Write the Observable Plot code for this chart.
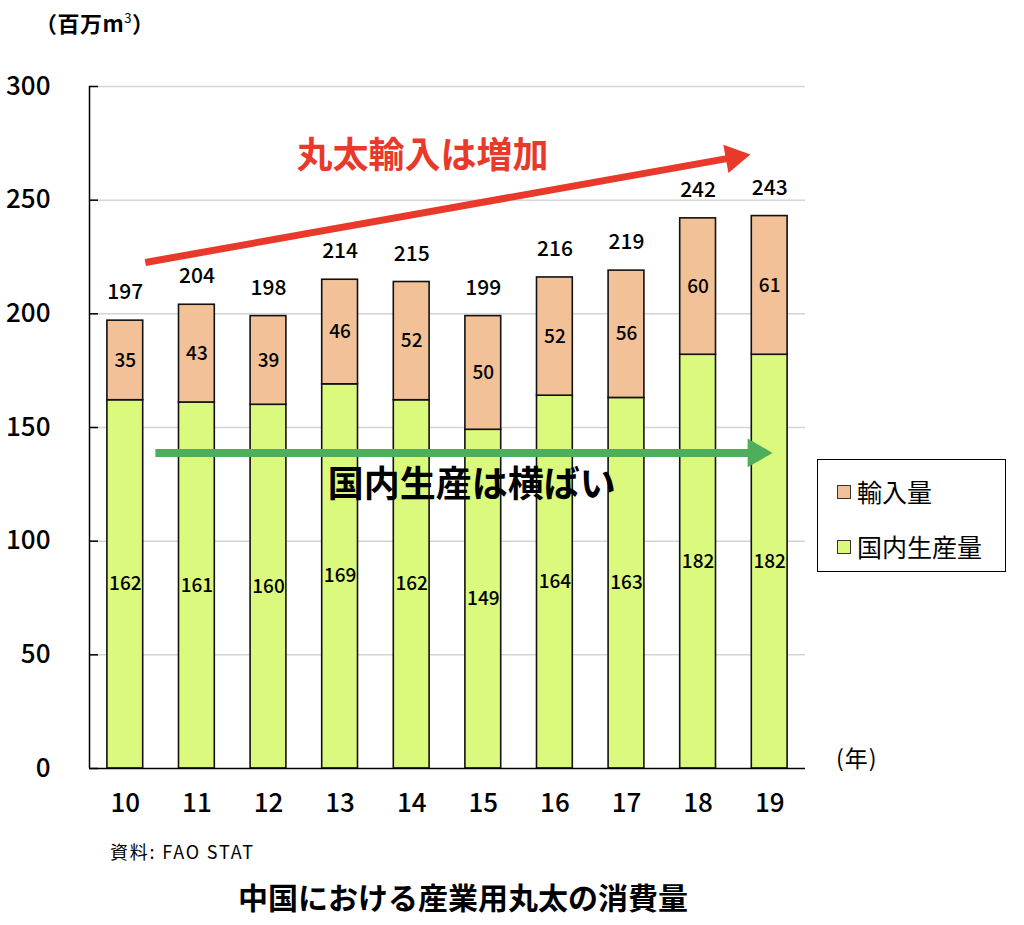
<!DOCTYPE html>
<html>
<head>
<meta charset="utf-8">
<script src="https://cdn.jsdelivr.net/npm/d3@7"></script>
<script src="https://cdn.jsdelivr.net/npm/@observablehq/plot@0.6"></script>
<style>
  html, body { margin: 0; padding: 0; background: #fff; }
  body { font-family: "Noto Sans CJK JP", "Noto Sans", sans-serif; color: #000; }
  #wrap { position: relative; width: 1024px; height: 925px; overflow: hidden; }
  #chart { position: absolute; left: 0; top: 0; }
  .abs { position: absolute; white-space: nowrap; line-height: 1; }
  #unit { left: 35px; top: 11px; font-size: 22px; font-weight: bold; letter-spacing: 0.5px; }
  #unit sup { font-size: 13px; vertical-align: 9px; font-weight: normal; }
  #yearlbl { left: 836px; top: 746px; font-size: 23px; letter-spacing: 1px; }
  #legend { left: 817px; top: 459px; width: 187px; height: 111px; border: 1.5px solid #000; box-sizing: content-box; }
  .li { position: absolute; left: 19px; font-size: 25px; display: flex; align-items: center; }
  .sw { width: 12px; height: 12px; border: 1px solid #333; margin-right: 6px; }
  #caption { left: 110px; top: 842px; font-size: 18px; letter-spacing: 1.8px; }
  #title { left: 0; width: 926px; text-align: center; top: 881px; font-size: 30px; font-weight: bold; }
</style>
</head>
<body>
<div id="wrap">
  <div id="chart"></div>
  <div id="unit" class="abs">（百万m<sup>3</sup>）</div>
  <div id="yearlbl" class="abs">(年)</div>
  <div id="legend" class="abs"></div>
  <div id="caption" class="abs">資料:&nbsp;FAO STAT</div>
  <div id="title" class="abs">中国における産業用丸太の消費量</div>
</div>
<script>
// ---- data ----
const years = [10, 11, 12, 13, 14, 15, 16, 17, 18, 19];
const domestic = [162, 161, 160, 169, 162, 149, 164, 163, 182, 182];
const imports = [35, 43, 39, 46, 52, 50, 52, 56, 60, 61];
const totals = [197, 204, 198, 214, 215, 199, 216, 219, 242, 243];
const seriesNames = ["輸入量", "国内生産量"];
const seriesColors = ["#F2C197", "#DBFA7D"];
const yTicks = [0, 50, 100, 150, 200, 250, 300];

// annotations (data coordinates)
const redArrow = [{x1: 10.28, y1: 222.6, x2: 18.73, y2: 270.1}];
const greenArrow = [{x1: 10.42, y1: 138.8, x2: 19.04, y2: 138.8}];
const notes = [
  {x: 14.15, y: 269.2, text: "丸太輸入は増加", color: "#E8392A"},
  {x: 14.84, y: 124.5, text: "国内生産は横ばい", color: "#000000"}
];
const RED = "#E8392A", GREEN = "#4FAE5B";

// ---- derived table ----
const rows = [];
years.forEach((yr, i) => {
  rows.push({year: yr, series: "国内生産量", y1: 0, y2: domestic[i], value: domestic[i]});
  rows.push({year: yr, series: "輸入量", y1: domestic[i], y2: domestic[i] + imports[i], value: imports[i]});
});
const totalRows = years.map((yr, i) => ({year: yr, total: totals[i], top: domestic[i] + imports[i]}));
const shaft = (a, t) => a.map(d => ({x1: d.x1, y1: d.y1, x2: d.x1 + (d.x2 - d.x1) * t, y2: d.y1 + (d.y2 - d.y1) * t}));

const font = "Noto Sans CJK JP";
const plot = Plot.plot({
  width: 1024,
  height: 830,
  marginTop: 86,
  marginBottom: 62,
  marginLeft: 89,
  marginRight: 219,
  style: {fontFamily: font, background: "transparent", overflow: "visible"},
  x: {type: "linear", domain: [9.5, 19.5]},
  y: {domain: [0, 300]},
  color: {domain: seriesNames, range: seriesColors},
  marks: [
    Plot.gridY(yTicks.filter(d => d > 0), {stroke: "#d4d4d4", strokeOpacity: 1, strokeWidth: 1.5}),
    Plot.rect(rows, {
      x1: d => d.year - 0.25, x2: d => d.year + 0.25, y1: "y1", y2: "y2",
      fill: "series", stroke: "#111", strokeWidth: 1.6
    }),
    Plot.ruleX([9.5], {y1: 0, y2: 300, stroke: "#000", strokeWidth: 1.5}),
    Plot.ruleY([0], {stroke: "#000", strokeWidth: 1.5}),
    Plot.axisY({ticks: yTicks, tickSize: -9, text: null, stroke: "#000", strokeWidth: 1.5}),
    Plot.axisY({ticks: yTicks, tickSize: 0, tickPadding: 39, fontSize: 26, fontWeight: 500, label: null, fill: "#000"}),
    Plot.axisX({ticks: years, tickSize: 0, tickPadding: 25, fontSize: 26, fontWeight: 500, label: null, tickFormat: d => String(d), fill: "#000"}),
    Plot.text(rows, {x: "year", y: d => (d.y1 + d.y2) / 2, text: d => String(d.value), fontSize: 19, fontWeight: 500, fill: "#000"}),
    Plot.text(totalRows, {x: "year", y: "top", text: d => String(d.total), dy: -28, fontSize: 21, fontWeight: 500, fill: "#000"}),
    Plot.link(shaft(redArrow, 0.975), {x1: "x1", y1: "y1", x2: "x2", y2: "y2", stroke: RED, strokeWidth: 7}),
    Plot.dot(redArrow, {x: "x2", y: "y2", symbol: "triangle", r: 10.7, fill: RED, stroke: "none", rotate: 79.9, dx: -16.3, dy: 2.9}),
    Plot.link(shaft(greenArrow, 0.97), {x1: "x1", y1: "y1", x2: "x2", y2: "y2", stroke: GREEN, strokeWidth: 8}),
    Plot.dot(greenArrow, {x: "x2", y: "y2", symbol: "triangle", r: 10.7, fill: GREEN, stroke: "none", rotate: 90, dx: -16.6}),
    Plot.text(notes, {x: "x", y: "y", text: "text", fill: "color", fontSize: 36, fontWeight: "bold"})
  ]
});
document.getElementById("chart").appendChild(plot);

// legend (HTML, built from series arrays)
const legend = document.getElementById("legend");
const legendTops = [19, 74];
seriesNames.forEach((name, i) => {
  const item = document.createElement("div");
  item.className = "li";
  item.style.top = legendTops[i] + "px";
  const sw = document.createElement("span");
  sw.className = "sw";
  sw.style.background = seriesColors[i];
  const t = document.createElement("span");
  t.textContent = name;
  item.appendChild(sw);
  item.appendChild(t);
  legend.appendChild(item);
});
</script>
</body>
</html>
